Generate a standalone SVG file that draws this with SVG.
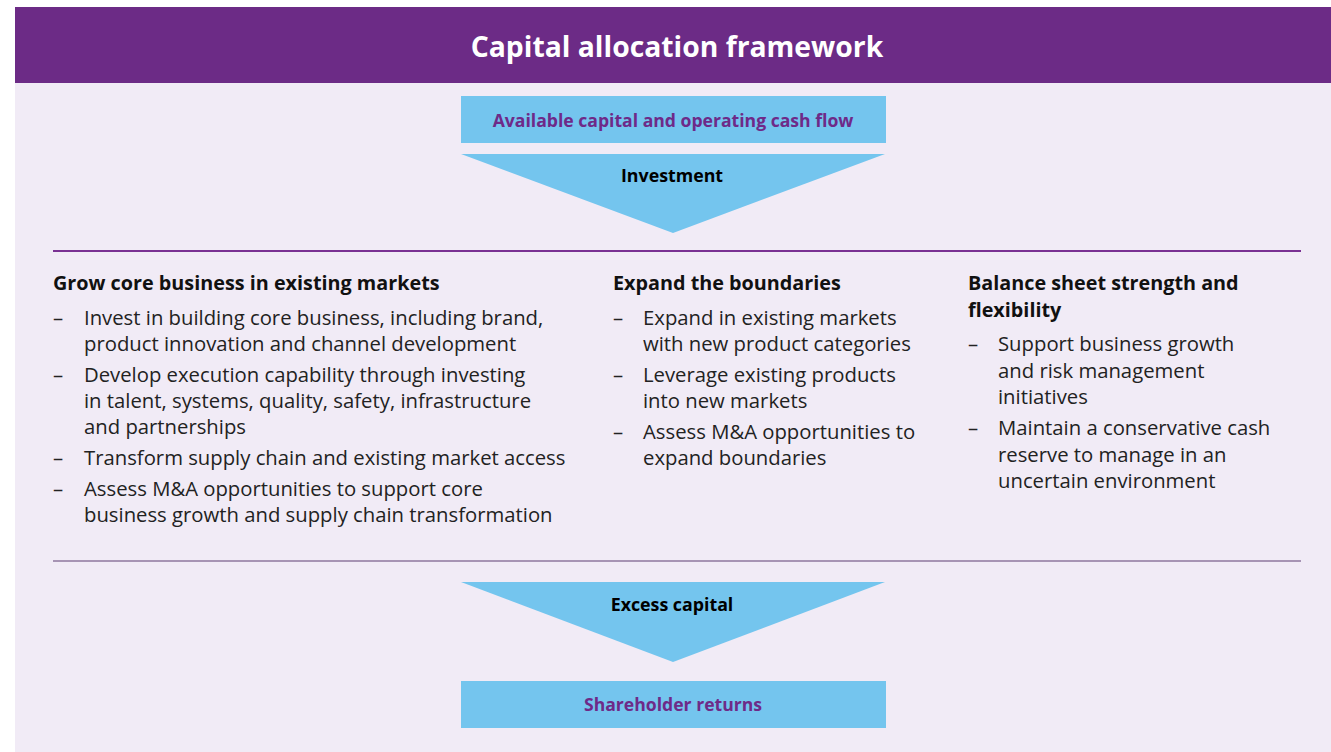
<svg xmlns="http://www.w3.org/2000/svg" width="1331" height="752" viewBox="0 0 1331 752">
<style>
.title{font-family:"Open Sans","Liberation Sans",sans-serif;font-weight:700;font-size:28.3px;fill:#ffffff;text-anchor:middle}
.boxlbl{font-family:"Open Sans","Liberation Sans",sans-serif;font-weight:700;font-size:17.6px;fill:#6e2a88;text-anchor:middle}
.arrlbl{font-family:"Open Sans","Liberation Sans",sans-serif;font-weight:700;font-size:17.8px;fill:#000000;text-anchor:middle}
.head{font-family:"Open Sans","Liberation Sans",sans-serif;font-weight:700;font-size:19.8px;fill:#111111}
.body{font-family:"Open Sans","Liberation Sans",sans-serif;font-size:20.3px;fill:#222222}
.blue{fill:#74c5ee}
</style>
<rect x="0" y="0" width="1331" height="752" fill="#ffffff"/>
<rect x="15" y="83" width="1316" height="669" fill="#f1ebf6"/>
<g id="header">
<rect x="15" y="7" width="1316" height="76" fill="#6c2b86"/>
<text class="title" x="677" y="57">Capital allocation framework</text>
</g>
<g id="available">
<rect class="blue" x="461" y="96" width="425" height="47"/>
<text class="boxlbl" x="673" y="127">Available capital and operating cash flow</text>
</g>
<g id="connectors">
<g id="investment">
<polygon class="blue" points="461,154 885,154 673,233"/>
<text class="arrlbl" x="672" y="182">Investment</text>
</g>
<line x1="53" y1="251" x2="1301" y2="251" stroke="#7a3193" stroke-width="2"/>
<line x1="53" y1="561" x2="1301" y2="561" stroke="#5e3f72" stroke-width="1.2"/>
<g id="excess">
<polygon class="blue" points="461,582 885,582 673,662"/>
<text class="arrlbl" x="672" y="611">Excess capital</text>
</g>
</g>
<g id="grow-core">
<text class="head" x="53" y="290">Grow core business in existing markets</text>
<g class="body">
<text x="53" y="325">–</text><text x="84" y="325">Invest in building core business, including brand,</text>
<text x="84" y="351">product innovation and channel development</text>
<text x="53" y="382">–</text><text x="84" y="382">Develop execution capability through investing</text>
<text x="84" y="408">in talent, systems, quality, safety, infrastructure</text>
<text x="84" y="434">and partnerships</text>
<text x="53" y="465">–</text><text x="84" y="465">Transform supply chain and existing market access</text>
<text x="53" y="496">–</text><text x="84" y="496">Assess M&amp;A opportunities to support core</text>
<text x="84" y="522">business growth and supply chain transformation</text>
</g>
</g>
<g id="expand">
<text class="head" x="613" y="290">Expand the boundaries</text>
<g class="body">
<text x="613" y="325">–</text><text x="643" y="325">Expand in existing markets</text>
<text x="643" y="351">with new product categories</text>
<text x="613" y="382">–</text><text x="643" y="382">Leverage existing products</text>
<text x="643" y="408">into new markets</text>
<text x="613" y="439">–</text><text x="643" y="439">Assess M&amp;A opportunities to</text>
<text x="643" y="465">expand boundaries</text>
</g>
</g>
<g id="balance">
<text class="head" x="968" y="290">Balance sheet strength and</text>
<text class="head" x="968" y="317">flexibility</text>
<g class="body">
<text x="968" y="351">–</text><text x="998" y="351">Support business growth</text>
<text x="998" y="378">and risk management</text>
<text x="998" y="404">initiatives</text>
<text x="968" y="435">–</text><text x="998" y="435">Maintain a conservative cash</text>
<text x="998" y="462">reserve to manage in an</text>
<text x="998" y="488">uncertain environment</text>
</g>
</g>
<g id="shareholder">
<rect class="blue" x="461" y="681" width="425" height="47"/>
<text class="boxlbl" x="673" y="711">Shareholder returns</text>
</g>
</svg>
